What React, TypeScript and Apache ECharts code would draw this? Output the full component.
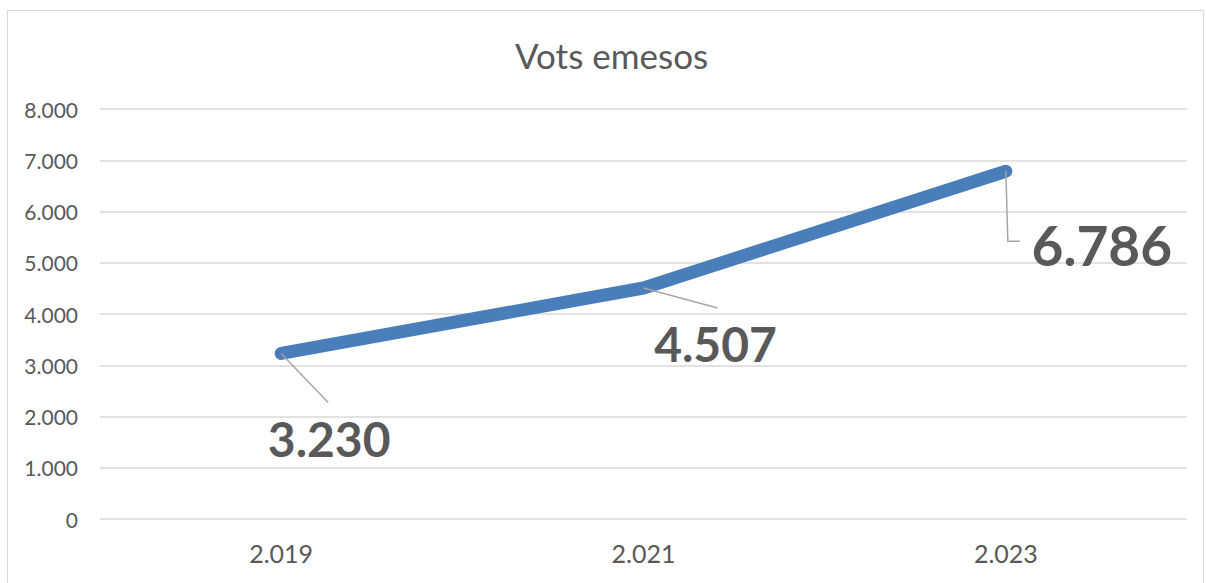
import React, { useEffect, useRef } from "react";
import * as echarts from "echarts";

const categories = ["2.019", "2.021", "2.023"];
const votes = [3230, 4507, 6786];
const yTicks = { min: 0, max: 8000, interval: 1000 };
const titleText = "Vots emesos";
const labelOffsets = [
  [48, 85],
  [72, 55],
  [96, 74],
];
const labelSizes = [48, 48, 55];
const leaderPaths = [
  [[0, 0], [47, 49]],
  [[0, 0], [74, 20]],
  [[0, 0], [2, 70], [14, 70]],
];

const fmt = (v: number) => {
  const s = String(Math.round(v));
  return s.replace(/\B(?=(\d{3})+(?!\d))/g, ".");
};

export default function App() {
  const ref = useRef<HTMLDivElement>(null);
  useEffect(() => {
    document.body.style.margin = "0";
    document.body.style.overflow = "hidden";
    const chart = echarts.init(ref.current!, null, { renderer: "svg" });
    const font = "Lato, 'Open Sans', sans-serif";
    chart.setOption({
      animation: false,
      backgroundColor: "#ffffff",
      textStyle: { fontFamily: font },
      title: {
        text: titleText,
        left: 510,
        top: 32,
        textStyle: { fontFamily: font, fontSize: 35, fontWeight: "normal", color: "#595959" },
      },
      graphic: [
        {
          type: "rect",
          shape: { x: 7.5, y: 10.5, width: 1196, height: 600 },
          style: { fill: "none", stroke: "#d9d9d9", lineWidth: 1 },
          silent: true,
          z: -1,
        },
      ],
      grid: { left: 100, right: 19, top: 109, bottom: 64, containLabel: false },
      xAxis: {
        type: "category",
        data: categories,
        boundaryGap: true,
        axisLine: { show: false },
        axisTick: { show: false },
        axisLabel: { color: "#595959", fontSize: 25, fontFamily: font, margin: 21 },
      },
      yAxis: {
        type: "value",
        min: yTicks.min,
        max: yTicks.max,
        interval: yTicks.interval,
        axisLine: { show: false },
        axisTick: { show: false },
        splitLine: { lineStyle: { color: "#d9d9d9", width: 1.5 } },
        axisLabel: {
          color: "#595959",
          fontSize: 21,
          fontFamily: font,
          margin: 22,
          formatter: (v: number) => fmt(v),
        },
      },
      series: [
        {
          type: "line",
          z: 2,
          data: votes.map((v, i) => ({ value: v, label: { fontSize: labelSizes[i] } })),
          symbol: "circle",
          symbolSize: 1,
          showSymbol: true,
          itemStyle: { color: "rgba(74,126,187,0)" },
          lineStyle: { color: "#4a7ebb", width: 13, cap: "round", join: "round" },
          label: {
            show: true,
            position: "inside",
            formatter: (p: any) => fmt(p.value),
            fontSize: 48,
            fontWeight: "bold",
            fontFamily: font,
            color: "#595959",
          },
          labelLayout: (p: any) => ({
            dx: labelOffsets[p.dataIndex][0],
            dy: labelOffsets[p.dataIndex][1],
          }),
        },
        {
          type: "custom",
          z: 3,
          silent: true,
          data: votes.map((v, i) => [i, v]),
          renderItem: (params: any, api: any) => {
            const p = api.coord([api.value(0), api.value(1)]);
            const path = leaderPaths[params.dataIndex];
            return {
              type: "polyline",
              shape: { points: path.map(([dx, dy]) => [p[0] + dx, p[1] + dy]) },
              style: { stroke: "#a6a6a6", lineWidth: 1.5, fill: "none" },
            };
          },
        },
      ],
    });
    return () => chart.dispose();
  }, []);
  return <div ref={ref} style={{ width: 1206, height: 583 }} />;
}
